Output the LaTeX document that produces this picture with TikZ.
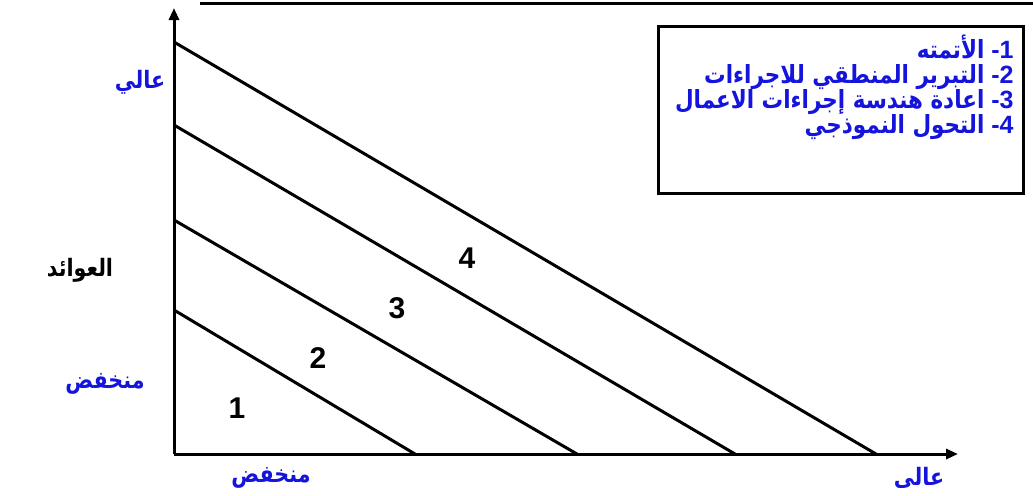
\documentclass[tikz,border=0pt]{standalone}
\usepackage{fontspec}
\setmainfont{Liberation Sans}
\newfontfamily\arabicfont[Script=Arabic,FakeStretch=0.86]{DejaVu Sans}
\TeXXeTstate=1
\usetikzlibrary{arrows.meta}
\definecolor{lblue}{RGB}{20,20,220}
\newcommand{\arl}[2]{{\arabicfont\beginR #1\endR}\ -#2}
\newcommand{\tightlines}{\lineskiplimit=-100pt\relax\lineskip=0pt\relax}
\tikzset{
  axisline/.style={line width=1.5pt,-{Triangle[length=6pt,width=5pt]}},
  band/.style={line width=1.5pt},
  num/.style={font=\fontsize{15}{15}\selectfont\bfseries},
  axlabel/.style={text=lblue,font=\arabicfont\bfseries\fontsize{12}{14}\selectfont},
  leg/.style={text=lblue,font=\bfseries\fontsize{12.5}{12.5}\selectfont\tightlines,anchor=north east,inner sep=0pt,align=right}
}
\begin{document}
\begin{tikzpicture}[x=0.5pt,y=-0.5pt]
\useasboundingbox (0,0) rectangle (1033,495);
\coordinate (O) at (174,454);
\coordinate (XT) at (958,454);
\coordinate (YT) at (174,8);
\coordinate (TL) at (200,3);
\coordinate (TR) at (1033,3);
\draw[line width=1.5pt] (TL) -- (TR);
\draw[axisline] (O) -- (XT);
\draw[axisline] (O) -- (YT);
% bands
\coordinate (a1) at (174,310); \coordinate (b1) at (415,454);
\coordinate (a2) at (174,220); \coordinate (b2) at (577,454);
\coordinate (a3) at (174,125); \coordinate (b3) at (735,454);
\coordinate (a4) at (174,42);  \coordinate (b4) at (876,454);
\draw[band] (a1) -- (b1);
\draw[band] (a2) -- (b2);
\draw[band] (a3) -- (b3);
\draw[band] (a4) -- (b4);
\node[num] (n1) at (237,408) {1};
\node[num] (n2) at (318,358) {2};
\node[num] (n3) at (397,308) {3};
\node[num] (n4) at (467,258) {4};
% axis labels
\node[axlabel] (yhigh) at (140,82) {\beginR عالي\endR};
\node[axlabel,text=black] (ytitle) at (80,270) {\beginR العوائد\endR};
\node[axlabel] (ylow) at (105,384) {\beginR منخفض\endR};
\node[axlabel] (xlow) at (271,478) {\beginR منخفض\endR};
\node[axlabel] (xhigh) at (919,478) {\beginR عالى\endR};
% legend box
\node[draw,line width=1.5pt,minimum width=182.5pt,minimum height=83.5pt,anchor=north west,inner sep=0pt] (box) at (657,25) {};
\node[leg] (legend) at (1014,34) {\arl{الأتمته}{1}\\
\arl{التبرير  المنطقي للاجراءات}{2}\\
\arl{اعادة هندسة إجراءات الاعمال}{3}\\
\arl{التحول النموذجي}{4}};
\end{tikzpicture}
\end{document}
